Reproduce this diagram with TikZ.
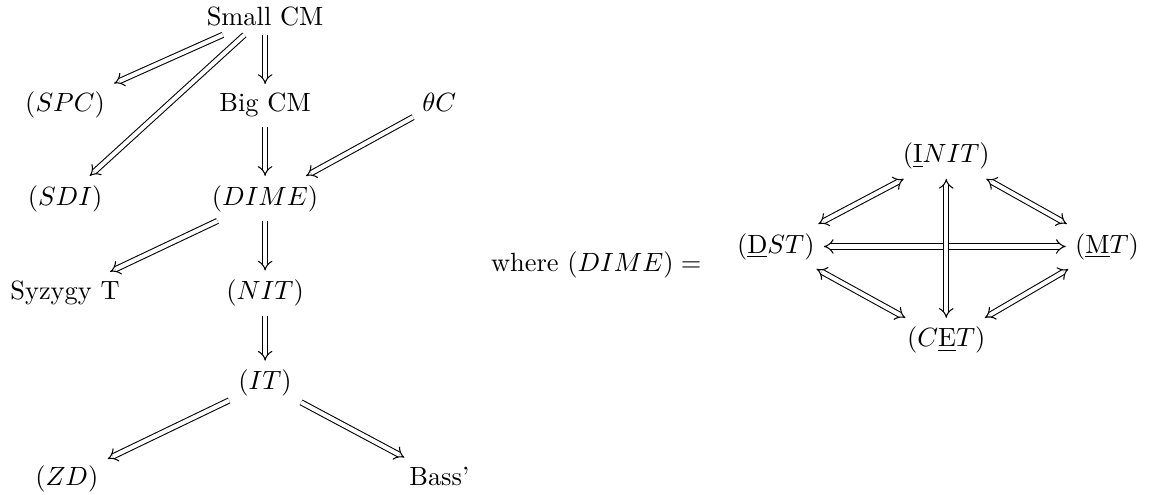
\documentclass[tikz,border=0pt]{standalone}
\usepackage{amsmath,amssymb}
\usetikzlibrary{arrows.meta,positioning}
\tikzset{
 obj/.style={anchor=base,inner sep=3.33pt},
 imp/.style={double,double equal sign distance,-{Implies},line width=.4pt},
 biimp/.style={imp,{Implies}-{Implies}},
}

\begin{document}
\begin{tikzpicture}
\useasboundingbox (0,0) rectangle (15.34,-6.58);

% the main chain
\node[obj] (smallcm) at (3.53,-.333) {Small CM};
\node[obj] (spc) at (.866,-1.49) {$(SPC)$};
\node[obj] (bigcm) at (3.53,-1.49) {Big CM};
\node[obj] (thetac) at (5.85,-1.49) {$\theta C$};
\node[obj] (sdi) at (.866,-2.73) {$(SDI)$};
\node[obj] (dime) at (3.53,-2.73) {$(DIME)$};
\node[obj] (syz) at (.866,-3.99) {Syzygy T};
\node[obj] (nit) at (3.53,-3.99) {$(NIT)$};
\node[obj] (it) at (3.53,-5.19) {$(IT)$};
\node[obj] (zd) at (.89,-6.46) {$(ZD)$};
\node[obj] (bass) at (5.85,-6.46) {Bass'};

\draw[imp] (smallcm) -- (spc);
\draw[imp] (smallcm) -- (sdi);
\draw[imp] (smallcm) -- (bigcm);
\draw[imp] (bigcm) -- (dime);
\draw[imp] (thetac) -- (dime);
\draw[imp] (dime) -- (syz);
\draw[imp] (dime) -- (nit);
\draw[imp] (nit) -- (it);
\draw[imp] (it) -- (zd);
\draw[imp] (it) -- (bass);

% the square for (DIME)
\node[obj] (where) at (7.94,-3.62) {where $(DIME)=$};
\node[obj] (init) at (12.60,-2.17) {$(\underline{\mathrm{I}}NIT)$};
\node[obj] (dst) at (10.33,-3.37) {$(\underline{\mathrm{D}}ST)$};
\node[obj] (mt) at (14.74,-3.37) {$(\underline{\mathrm{M}}T)$};
\node[obj] (cet) at (12.60,-4.62) {$(C\underline{\mathrm{E}}T)$};

\draw[biimp] (dst) -- (init);
\draw[biimp] (init) -- (mt);
\draw[biimp] (dst) -- (cet);
\draw[biimp] (cet) -- (mt);
\draw[biimp] (dst) -- (mt);
\draw[biimp] (init) -- (cet);

\end{tikzpicture}
\end{document}
